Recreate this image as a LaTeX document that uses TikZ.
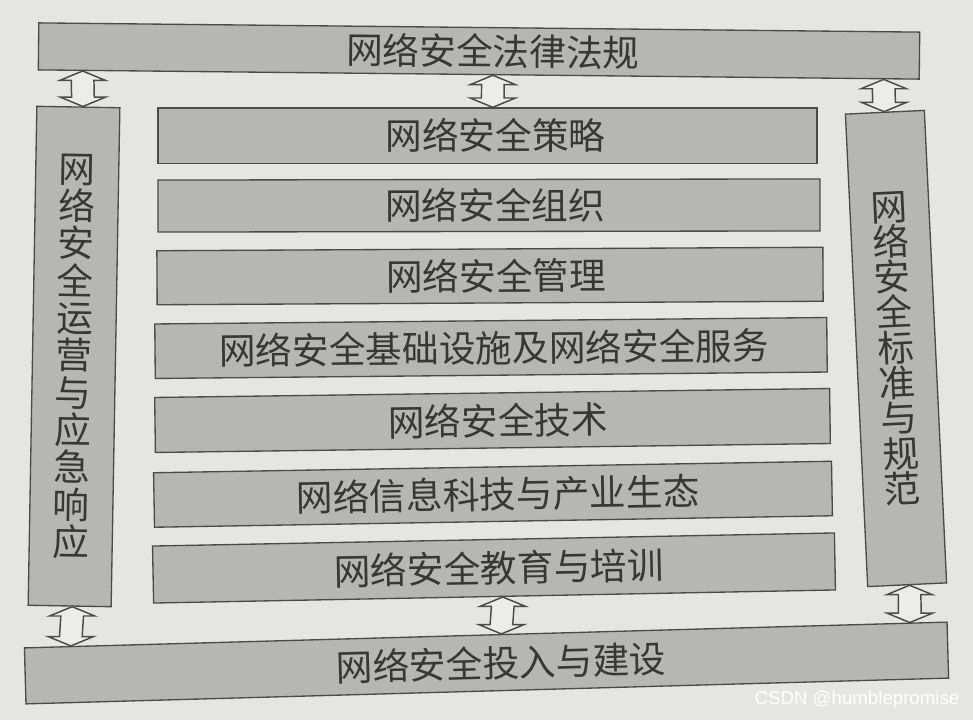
\documentclass[tikz,border=0pt]{standalone}
\usepackage{fontspec}
\usetikzlibrary{calc}
\newfontfamily\cjk{Noto Sans CJK SC}
\newfontfamily\wmfont{Liberation Sans}
\definecolor{bg}{RGB}{229,229,227}
\definecolor{bx}{RGB}{182,182,180}
\definecolor{bd}{RGB}{75,75,75}
\definecolor{tx}{RGB}{55,55,55}
\definecolor{af}{RGB}{236,236,234}
\def\arHW{17pt}
\def\arSW{8.5pt}
\def\arHL{7pt}
\newcommand\blockarrow[2]{%
  \draw[arrowshape] let \p1=#1, \p2=#2 in
    (\x1,\y1) -- (\x1+\arHW,\y1-\arHL) -- (\x1+\arSW,\y1-\arHL)
    -- (\x2+\arSW,\y2+\arHL) -- (\x2+\arHW,\y2+\arHL) -- (\x2,\y2)
    -- (\x2-\arHW,\y2+\arHL) -- (\x2-\arSW,\y2+\arHL)
    -- (\x1-\arSW,\y1-\arHL) -- (\x1-\arHW,\y1-\arHL) -- cycle;}
\begin{document}
\begin{tikzpicture}[x=0.75pt,y=-0.75pt,
  box/.style={draw=bd, fill=bx, line width=1pt, inner sep=0pt, text=tx,
    font=\cjk\fontsize{27.5}{28}\selectfont},
  vbox/.style={box, align=center},
  arrowshape/.style={draw=bd, fill=af, line width=1.1pt, line join=miter}]
\fill[bg] (0,0) rectangle (973,720);
\useasboundingbox (0,0) rectangle (973,720);

\node[box, minimum width=881*0.75pt, minimum height=47*0.75pt, rotate=-0.6] (topbox) at (479,51) {\hspace*{21pt}网络安全法律法规};

\node[box, minimum width=659*0.75pt, minimum height=55.5*0.75pt] (box1) at (487.5,135.75) {\hspace*{12pt}网络安全策略};
\node[box, minimum width=662*0.75pt, minimum height=52*0.75pt, rotate=0.1] (box2) at (489,205.5) {\hspace*{9pt}网络安全组织};
\node[box, minimum width=666*0.75pt, minimum height=54*0.75pt, rotate=0.3] (box3) at (490,276) {\hspace*{9pt}网络安全管理};
\node[box, minimum width=672*0.75pt, minimum height=54.5*0.75pt, rotate=0.55] (box4) at (491,348) {\hspace*{4.5pt}网络安全基础设施及网络安全服务};
\node[box, minimum width=675*0.75pt, minimum height=55*0.75pt, rotate=0.76] (box5) at (492.5,420.5) {\hspace*{8pt}网络安全技术};
\node[box, minimum width=678*0.75pt, minimum height=54.5*0.75pt, rotate=0.97] (box6) at (493,494.25) {\hspace*{7.5pt}网络信息科技与产业生态};
\node[box, minimum width=682*0.75pt, minimum height=57*0.75pt, rotate=1.1] (box7) at (494,568) {\hspace*{7.5pt}网络安全教育与培训};

\node[box, minimum width=923*0.75pt, minimum height=56*0.75pt, rotate=1.6] (botbox) at (486.5,663) {\hspace*{22pt}网络安全投入与建设};

\node[vbox, minimum width=83*0.75pt, minimum height=499*0.75pt, rotate=-1.0] (leftcol) at (74,356.5)
  {网\\络\\安\\全\\运\\营\\与\\应\\急\\响\\应};
\node[vbox, minimum width=79*0.75pt, minimum height=473*0.75pt, rotate=2.7,
  font=\cjk\fontsize{27.5}{26.5}\selectfont] (rightcol) at (896,348.5)
  {网\\络\\安\\全\\标\\准\\与\\规\\范};

\blockarrow{($(topbox.south west)!0.051!(topbox.south east)$)}{($(leftcol.north west)!0.554!(leftcol.north east)$)}
\blockarrow{($(topbox.south west)!0.516!(topbox.south east)$)}{($(box1.north west)!0.508!(box1.north east)$)}
\blockarrow{($(topbox.south west)!0.959!(topbox.south east)$)}{($(rightcol.north west)!0.49!(rightcol.north east)$)}
\blockarrow{($(leftcol.south west)!0.53!(leftcol.south east)$)}{($(botbox.north west)!0.051!(botbox.north east)$)}
\blockarrow{($(box7.south west)!0.512!(box7.south east)$)}{($(botbox.north west)!0.517!(botbox.north east)$)}
\blockarrow{($(rightcol.south west)!0.53!(rightcol.south east)$)}{($(botbox.north west)!0.959!(botbox.north east)$)}

\node[font=\wmfont\fontsize{14}{14}\selectfont, text=white, inner sep=0pt] (wm) at (857,700) {CSDN @humblepromise};
\end{tikzpicture}
\end{document}
